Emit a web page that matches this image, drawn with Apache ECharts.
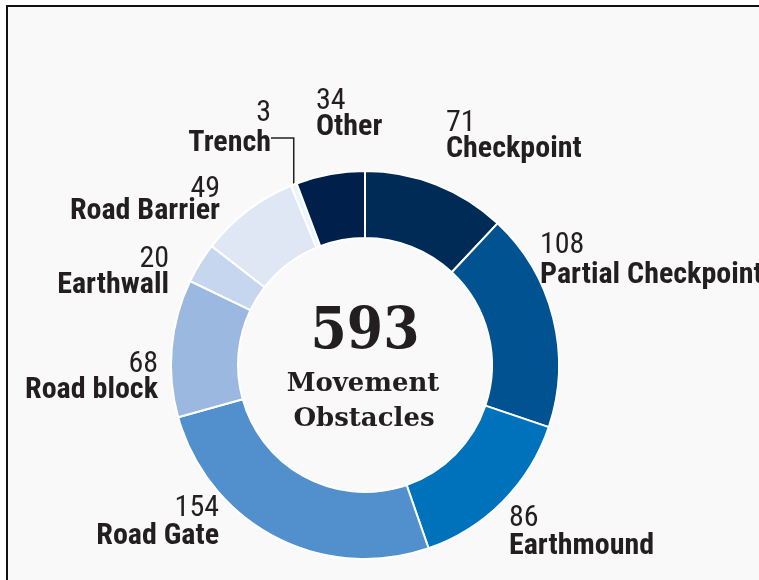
<!DOCTYPE html>
<html><head><meta charset="utf-8">
<script src="https://cdn.jsdelivr.net/npm/echarts@6/dist/echarts.min.js"></script>
<style>html,body{margin:0;padding:0;background:#fff}#c{width:759px;height:580px}</style>
</head><body><div id="c"></div>
<script>
// ---- data ----
const categories = ['Checkpoint','Partial Checkpoint','Earthmound','Road Gate','Road block','Earthwall','Road Barrier','Trench','Other'];
const values = [71,108,86,154,68,20,49,3,34];
const totalText = '593';
const centerLines = ['Movement','Obstacles'];

// ---- styles ----
const sliceColors = ['#002b57','#005290','#0072bc','#5190cd','#9bb9e0','#c6d6ee','#dfe7f5','#eaf5fd','#00204b'];
const labelAnchors = [[446,136,'left'],[540,260,'left'],[509,532,'left'],[219,522,'right'],[158,377,'right'],[169,272,'right'],[220,200,'right'],[271,143,'right'],[316,114,'left']];
const lineHeights = [26,30,28,28,26,26,22,30,26];
const NARROW = '"Liberation Sans Narrow","Roboto Condensed","DejaVu Sans Condensed",sans-serif';
const SLAB = '"DejaVu Serif Condensed","DejaVu Serif",serif';
const ink = '#231f20';

const data = categories.map((name, i) => {
  const lh = lineHeights[i];
  const item = {
    name, value: values[i],
    itemStyle: { color: sliceColors[i] },
    label: {
      rich: {
        v: { fontFamily: NARROW, fontSize: 30, fontWeight: 'normal', color: ink, lineHeight: lh },
        n: { fontFamily: NARROW, fontSize: 30, fontWeight: 'bold', color: ink, lineHeight: lh },
        e: { fontSize: 10, lineHeight: lh }
      }
    }
  };
  if (name === 'Trench') {
    item.label.formatter = p => '{v|' + p.value + '}\n{n|' + p.name + '}\n{e| }';
    item.labelLine = { show: true, length: 10, length2: 26, smooth: false,
      lineStyle: { color: ink, width: 1.5 } };
  }
  return item;
});

const chart = echarts.init(document.getElementById('c'), null, { renderer: 'canvas' });
chart.setOption({
  backgroundColor: '#ffffff',
  animation: false,
  graphic: [
    { type: 'rect', z: -10, shape: { x: 7, y: 6, width: 760, height: 580 },
      style: { fill: '#f9f9f9', stroke: '#111', lineWidth: 2 } },
    { type: 'text', z: 10, style: { text: totalText, x: 365, y: 333, align: 'center', verticalAlign: 'middle',
      fontFamily: SLAB, fontWeight: 'bold', fontSize: 58, fill: ink } },
    { type: 'text', z: 10, style: { text: centerLines[0], x: 363, y: 384, align: 'center', verticalAlign: 'middle',
      fontFamily: '"DejaVu Serif",serif', fontWeight: 'bold', fontSize: 26, fill: ink } },
    { type: 'text', z: 10, style: { text: centerLines[1], x: 364, y: 419, align: 'center', verticalAlign: 'middle',
      fontFamily: '"DejaVu Serif",serif', fontWeight: 'bold', fontSize: 26, fill: ink } }
  ],
  series: [{
    type: 'pie',
    center: [365, 365],
    radius: [127, 194],
    startAngle: 90,
    clockwise: true,
    avoidLabelOverlap: false,
    itemStyle: { borderColor: '#ffffff', borderWidth: 2 },
    label: {
      show: true, position: 'outside', alignTo: 'none',
      formatter: p => '{v|' + p.value + '}\n{n|' + p.name + '}'
    },
    labelLine: { show: false },
    labelLayout: function (params) {
      const a = labelAnchors[params.dataIndex];
      return { x: a[0], y: a[1], align: a[2], verticalAlign: 'middle' };
    },
    emphasis: { disabled: true },
    data: data
  }]
});
</script></body></html>
